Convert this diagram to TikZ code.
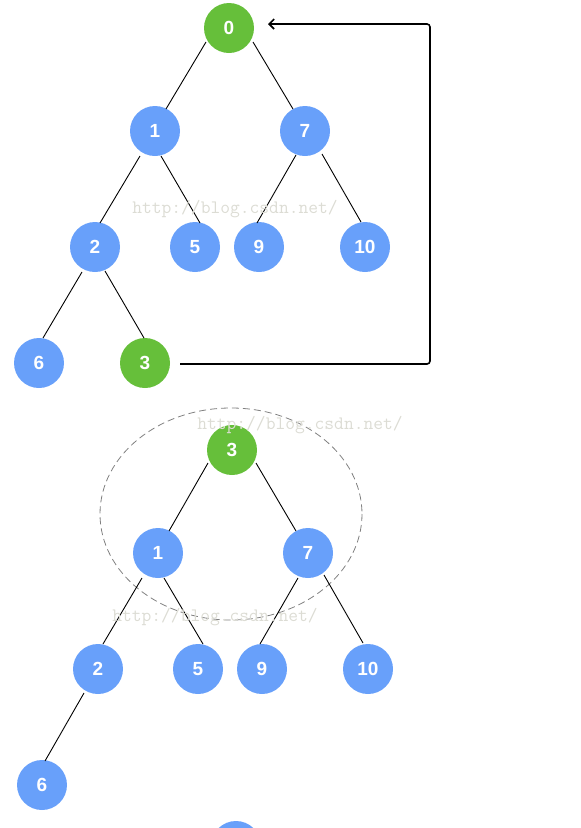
\documentclass[tikz,border=0pt]{standalone}
\usepackage{fontspec}
\setmainfont{Liberation Sans}
\usetikzlibrary{arrows.meta,calc}
\definecolor{ngreen}{RGB}{102,191,58}
\definecolor{nblue}{RGB}{104,160,250}
\definecolor{wmark}{RGB}{220,220,212}
\begin{document}
\begin{tikzpicture}[x=1pt,y=-1pt,
  tn/.style={circle,fill=nblue,minimum size=50pt,inner sep=0pt,outer sep=0pt,text=white,font=\fontsize{19}{19}\selectfont\bfseries},
  gn/.style={tn,fill=ngreen},
  edge/.style={draw=black,line width=0.9pt},
  wm/.style={text=wmark,font=\fontsize{19}{19}\selectfont\ttfamily,inner sep=0pt}]
\useasboundingbox (0,0) rectangle (581,828);
% top tree
\node[gn] (a0) at (229,28) {0};
\node[tn] (a1) at (155,131) {1};
\node[tn] (a7) at (305,131) {7};
\node[tn] (a2) at (95,247) {2};
\node[tn] (a5) at (195,247) {5};
\node[tn] (a9) at (259,247) {9};
\node[tn] (a10) at (365,247) {10};
\node[tn] (a6) at (39,363) {6};
\node[gn] (a3) at (145,363) {3};
\foreach \u/\v/\sx/\sy/\ex/\ey in {a0/a1/-23/14/11/-22, a0/a7/24/14/-12/-22,
   a1/a2/-15/25/5/-24, a1/a5/6/25/5/-24, a7/a9/-9/24/-2/-24, a7/a10/17/23/-4/-25,
   a2/a6/-13/25/4/-25, a2/a3/10/24/-1/-25}
  \draw[edge] ($(\u)+(\sx,\sy)$) -- ($(\v)+(\ex,\ey)$);
\coordinate (s) at (180,364);
\coordinate (e) at (268,24);
\draw[line width=1.6pt,rounded corners=3pt,-{Straight Barb[length=5pt,width=10pt]}] (s) -- (430,364) -- (430,24) -- (e);
\node[wm] (w1) at (235,209) {http://blog.csdn.net/};
% bottom tree
\draw[gray,dashed,dash pattern=on 7pt off 4pt,line width=0.8pt] (231,514) ellipse [x radius=131, y radius=106];
\node[gn] (b3) at (232,450) {3};
\node[tn] (b1) at (158,553) {1};
\node[tn] (b7) at (308,553) {7};
\node[tn] (b2) at (98,669) {2};
\node[tn] (b5) at (198,669) {5};
\node[tn] (b9) at (262,669) {9};
\node[tn] (b10) at (368,669) {10};
\node[tn] (b6) at (42,785) {6};
\node[tn] (bx) at (236,846) {};
\foreach \u/\v/\sx/\sy/\ex/\ey in {b3/b1/-24/13/11/-22, b3/b7/24/13/-12/-22,
   b1/b2/-16/25/5/-25, b1/b5/6/25/5/-25, b7/b9/-10/25/-2/-25, b7/b10/16/22/-5/-26,
   b2/b6/-14/24/3/-24}
  \draw[edge] ($(\u)+(\sx,\sy)$) -- ($(\v)+(\ex,\ey)$);
\node[wm] (w2) at (300,425) {http://blog.csdn.net/};
\node[wm] (w3) at (215,617) {http://blog.csdn.net/};
\end{tikzpicture}
\end{document}
